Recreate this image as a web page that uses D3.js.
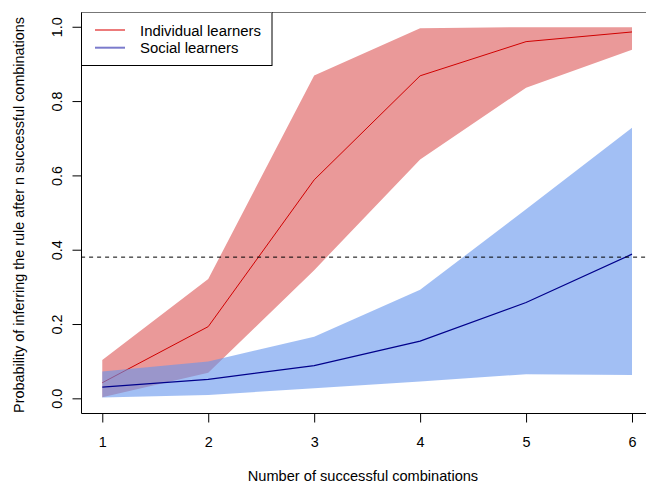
<!DOCTYPE html>
<html>
<head>
<meta charset="utf-8">
<script src="https://cdn.jsdelivr.net/npm/d3@7"></script>
<style>
  body { margin: 0; background: #fff; }
  svg { display: block; font-family: "Liberation Sans", Arial, sans-serif; }
</style>
</head>
<body>
<div id="chart"></div>
<script>
// number of successful combinations
var steps = [1, 2, 3, 4, 5, 6];

// individual learners: mean and band
var indivMean  = [0.042, 0.193, 0.588, 0.868, 0.960, 0.986];
var indivLower = [0.003, 0.069, 0.345, 0.643, 0.836, 0.938];
var indivUpper = [0.103, 0.321, 0.869, 0.996, 0.999, 0.999];

// social learners: mean and band
var socialMean  = [0.030, 0.051, 0.088, 0.154, 0.258, 0.388];
var socialLower = [0.002, 0.009, 0.027, 0.045, 0.065, 0.063];
var socialUpper = [0.072, 0.099, 0.166, 0.292, 0.509, 0.728];

var threshold = 0.38;
var xTicks = [1, 2, 3, 4, 5, 6];
var yTicks = [0, 0.2, 0.4, 0.6, 0.8, 1.0];
var legendLabels = ["Individual learners", "Social learners"];

var width = 646, height = 485;
var fontSize = 14.4;

var svg = d3.select("#chart").append("svg")
  .attr("width", width)
  .attr("height", height);

// R style: axes extended 4% beyond data range
var x = d3.scaleLinear().domain([0.8, 6.2]).range([81.1, 653.2]);
var y = d3.scaleLinear().domain([-0.04, 1.04]).range([413.2, 11.9]);

function rows(lo, mid, hi) {
  return steps.map(function(s, i) { return {x: s, lo: lo[i], mid: mid[i], hi: hi[i]}; });
}
var indiv = rows(indivLower, indivMean, indivUpper);
var social = rows(socialLower, socialMean, socialUpper);

var band = d3.area()
  .x(function(d) { return x(d.x); })
  .y0(function(d) { return y(d.lo); })
  .y1(function(d) { return y(d.hi); });
var meanLine = d3.line()
  .x(function(d) { return x(d.x); })
  .y(function(d) { return y(d.mid); });

// red band + line
svg.append("path").datum(indiv)
  .attr("d", band)
  .attr("fill", "#ea9999");
svg.append("path").datum(indiv)
  .attr("d", meanLine)
  .attr("fill", "none")
  .attr("stroke", "#d00000")
  .attr("stroke-width", 1);

// blue band (semi transparent, over the red) + line
svg.append("path").datum(social)
  .attr("d", band)
  .attr("fill", "cornflowerblue")
  .attr("fill-opacity", 0.6);
svg.append("path").datum(social)
  .attr("d", meanLine)
  .attr("fill", "none")
  .attr("stroke", "#00008b")
  .attr("stroke-width", 1.2);

// dashed threshold
svg.append("line")
  .attr("x1", x(0.8)).attr("x2", x(6.2))
  .attr("y1", y(threshold)).attr("y2", y(threshold))
  .attr("stroke", "#000")
  .attr("stroke-width", 1)
  .attr("stroke-dasharray", "4,4");

// box: top edge comes out grey in the original
svg.append("line")
  .attr("x1", 81.5).attr("x2", 653).attr("y1", 12.5).attr("y2", 12.5)
  .attr("stroke", "#777");
svg.append("path")
  .attr("d", "M81.5,12.5V413.5H653")
  .attr("fill", "none")
  .attr("stroke", "#000");

// x axis
var xAxis = svg.append("g")
  .attr("transform", "translate(0,413.5)")
  .call(d3.axisBottom(x).tickValues(xTicks).tickSize(9).tickPadding(14).tickFormat(d3.format("d")));
xAxis.select(".domain").remove();
xAxis.selectAll("text")
  .attr("font-size", fontSize)
  .attr("font-family", "Liberation Sans, Arial, sans-serif")
  .attr("fill", "#000");

// y axis (labels rotated like R's default las=0)
var yAxis = svg.append("g")
  .attr("transform", "translate(81.5,0)")
  .call(d3.axisLeft(y).tickValues(yTicks).tickSize(9).tickFormat(d3.format(".1f")));
yAxis.select(".domain").remove();
yAxis.selectAll("text")
  .attr("font-size", fontSize)
  .attr("font-family", "Liberation Sans, Arial, sans-serif")
  .attr("fill", "#000")
  .attr("text-anchor", "middle")
  .attr("dy", 0)
  .attr("x", 0)
  .attr("transform", "translate(-19.5,0) rotate(-90)");

// axis titles
svg.append("text")
  .attr("x", 363).attr("y", 481)
  .attr("text-anchor", "middle")
  .attr("font-size", 14.6)
  .text("Number of successful combinations");

svg.append("text")
  .attr("transform", "translate(24,215) rotate(-90)")
  .attr("text-anchor", "middle")
  .attr("font-size", fontSize)
  .text("Probability of inferring the rule after n successful combinations");

// legend
var legend = svg.append("g");
legend.append("rect")
  .attr("x", 81.5).attr("y", 12.5)
  .attr("width", 272 - 81.5).attr("height", 65.5 - 12.5)
  .attr("fill", "#fff")
  .attr("stroke", "#000");
legend.append("line")
  .attr("x1", 81.5).attr("x2", 272).attr("y1", 12.5).attr("y2", 12.5)
  .attr("stroke", "#777");
var legendColors = ["#ec7b7b", "#7b7bcc"];
legendLabels.forEach(function(lab, i) {
  var ly = 30 + i * 17.7;
  legend.append("line")
    .attr("x1", 95).attr("x2", 125)
    .attr("y1", ly).attr("y2", ly)
    .attr("stroke", legendColors[i])
    .attr("stroke-width", 2);
  legend.append("text")
    .attr("x", 140).attr("y", ly + 5.5)
    .attr("font-size", 14.9)
    .text(lab);
});
</script>
</body>
</html>
